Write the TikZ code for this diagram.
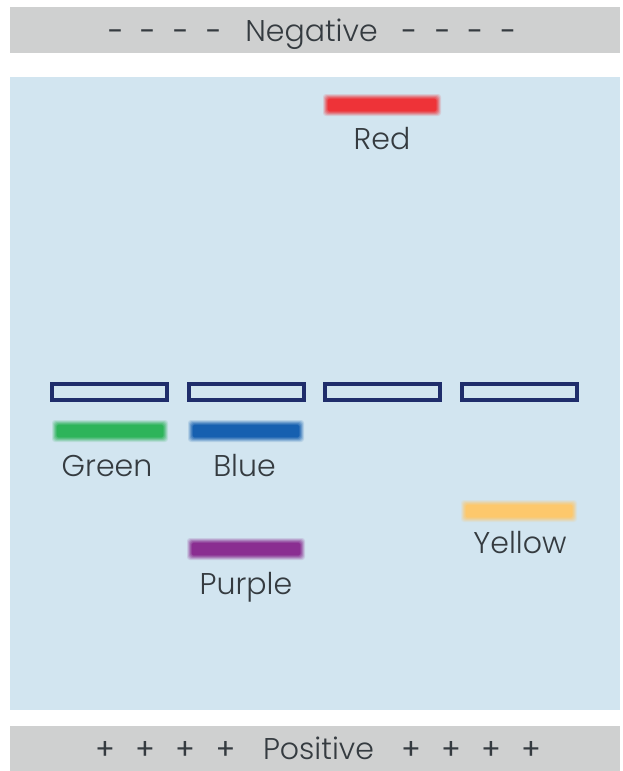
\documentclass[tikz,border=0pt]{standalone}
\usepackage{fontspec}
\IfFontExistsTF{Poppins Light}{\setmainfont{Poppins Light}}{\setmainfont{Poppins}}
\newfontfamily\symfont{Poppins}
\definecolor{bar}{HTML}{CFD0D0}
\definecolor{gel}{HTML}{D2E5F0}
\definecolor{navy}{HTML}{1F2D6B}
\definecolor{txt}{HTML}{353B40}
\definecolor{cred}{HTML}{EE3338}
\definecolor{cgreen}{HTML}{2DB45A}
\definecolor{cblue}{HTML}{1660B0}
\definecolor{cpurple}{HTML}{8A2E91}
\definecolor{cyellow}{HTML}{FDC86C}
\newcommand\gelband[4]{%
  \foreach \e/\o in {5/0.15,4/0.22,3/0.3,2/0.4,1/0.55}{
    \fill[#1,opacity=\o,rounded corners=3pt] (#2-\e,#4-6-\e) rectangle (#3+\e,#4+6+\e);
  }
  \fill[#1,rounded corners=1pt] (#2,#4-6) rectangle (#3,#4+6);
}
\begin{document}
\begin{tikzpicture}[x=1pt,y=-1pt,
  lbl/.style={text=txt,font=\fontsize{30}{34}\selectfont,inner sep=0pt,anchor=base},
  sym/.style={text=txt,font=\symfont\fontsize{29}{34}\selectfont,inner sep=0pt,anchor=base},
  well/.style={draw=navy,line width=4pt,fill=none,minimum width=115pt,minimum height=16pt,inner sep=0pt},
]
\useasboundingbox[fill=white] (0,0) rectangle (622,771);
\fill[bar] (10,7) rectangle (620,53);
\fill[gel] (10,77) rectangle (620,710);
\fill[bar] (10,726) rectangle (620,771);
% top label
\node[lbl] (neg) at (311.5,41) {Negative};
\foreach \i/\xx in {1/115.5,2/147.5,3/180.5,4/213.5,5/409,6/442.5,7/475,8/508}
  \node[sym] (m\i) at (\xx,41) {-};
% bottom label
\node[lbl] (pos) at (318.5,759) {Positive};
\foreach \i/\xx in {1/105,2/145,3/185,4/225.5,5/411,6/451,7/491,8/531}
  \node[sym] (p\i) at (\xx,759) {+};
% wells
\node[well] (w1) at (109.5,392) {};
\node[well] (w2) at (246.5,392) {};
\node[well] (w3) at (382.5,392) {};
\node[well] (w4) at (519.5,392) {};
% bands
\gelband{cred}{328}{436}{105}
\gelband{cgreen}{57}{163}{431}
\gelband{cblue}{193}{299}{431}
\gelband{cpurple}{192}{300}{549}
\gelband{cyellow}{466}{572}{511}
% labels
\node[lbl] (lred) at (382,149) {Red};
\node[lbl] (lgreen) at (107,476) {Green};
\node[lbl] (lblue) at (244.5,476) {Blue};
\node[lbl] (lyellow) at (520,553) {Yellow};
\node[lbl] (lpurple) at (246,594) {Purple};
\end{tikzpicture}
\end{document}
